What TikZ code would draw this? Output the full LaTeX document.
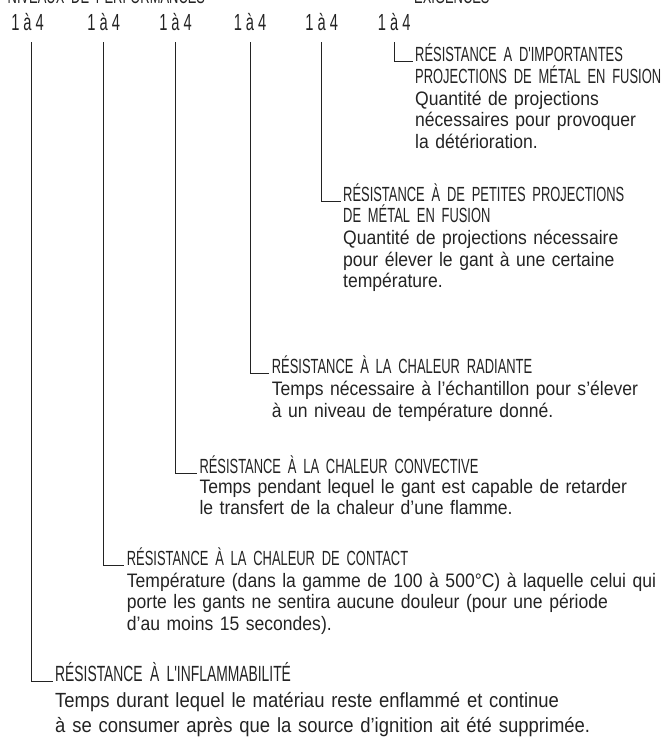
\documentclass[tikz,border=0pt]{standalone}
\usepackage{fontspec}
\setmainfont{Liberation Sans}[FakeStretch=0.90]
\newfontfamily\capsfont{Liberation Sans}[FakeStretch=0.63]
\usetikzlibrary{positioning}
\definecolor{inkgray}{RGB}{35,35,35}

\begin{document}
\begin{tikzpicture}[x=1pt, y=-1pt,
  lvl/.style={inner sep=0pt, anchor=base, text=inkgray,
              font={\capsfont\fontsize{23.3}{26}\selectfont\spaceskip=4pt\relax}},
  head/.style={inner xsep=2.5pt, inner ysep=0pt, anchor=base west, align=left,
               text width=330pt, text=inkgray,
               font={\capsfont\fontsize{20.5}{21.7}\selectfont}},
  desc/.style={inner xsep=2.5pt, inner ysep=0pt, anchor=base west, align=left,
               text width=560pt, text=inkgray, font={\fontsize{19.5}{#1}\selectfont}},
  desc/.default=21.7,
  lead/.style={draw=inkgray, line width=1pt, shorten <=11.7pt}
]
\useasboundingbox (0,0) rectangle (661,740);

% column titles, cut by the top edge
\node[head] (ttl) at (5,3.4) {NIVEAUX DE PERFORMANCES};
\node[head] (req) at (411.5,3.4) {EXIGENCES};

% levels
\node[lvl] (n1) at (27.5,30) {1 à 4};
\node[lvl] (n2) at (103.7,30) {1 à 4};
\node[lvl] (n3) at (175.5,30) {1 à 4};
\node[lvl] (n4) at (250,30) {1 à 4};
\node[lvl] (n5) at (321.7,30) {1 à 4};
\node[lvl] (n6) at (394.2,30) {1 à 4};

% tests
\node[head] (h6) at (412.5,61.5) {RÉSISTANCE A D'IMPORTANTES\\PROJECTIONS DE MÉTAL EN FUSION};
\node[desc] (d6) at ([yshift=-43.5pt]h6.base west) {Quantité de projections\\nécessaires pour provoquer\\la détérioration.};

\node[head] (h5) at (340.5,201) {RÉSISTANCE À DE PETITES PROJECTIONS\\DE MÉTAL EN FUSION};
\node[desc] (d5) at ([yshift=-43.4pt]h5.base west) {Quantité de projections nécessaire\\pour élever le gant à une certaine\\température.};

\node[head] (h4) at (269.2,373) {RÉSISTANCE À LA CHALEUR RADIANTE};
\node[desc=22] (d4) at ([yshift=-22pt]h4.base west) {Temps nécessaire à l'échantillon pour s'élever\\à un niveau de température donné.};

\node[head] (h3) at (196.8,473) {RÉSISTANCE À LA CHALEUR CONVECTIVE};
\node[desc=20.5] (d3) at ([yshift=-20.5pt]h3.base west) {Temps pendant lequel le gant est capable de retarder\\le transfert de la chaleur d'une flamme.};

\node[head] (h2) at (124.2,565) {RÉSISTANCE À LA CHALEUR DE CONTACT};
\node[desc=21.3] (d2) at ([yshift=-22.5pt]h2.base west) {Température (dans la gamme de 100 à 500°C) à laquelle celui qui\\porte les gants ne sentira aucune douleur (pour une période\\d'au moins 15 secondes).};

\node[head, font={\capsfont\fontsize{22}{24}\selectfont}] (h1) at (52.5,681) {RÉSISTANCE À L'INFLAMMABILITÉ};
\node[desc, font={\fontsize{20.5}{25}\selectfont}] (d1) at ([yshift=-26pt]h1.base west) {Temps durant lequel le matériau reste enflammé et continue\\à se consumer après que la source d'ignition ait été supprimée.};

% leader lines
\draw[lead] ([xshift=4.2pt]n1.south) |- (h1.base west);
\draw[lead] (n2.south) |- (h2.base west);
\draw[lead] (n3.south) |- (h3.base west);
\draw[lead] (n4.south) |- (h4.base west);
\draw[lead] (n5.south) |- (h5.base west);
\draw[lead] (n6.south) |- (h6.base west);
\end{tikzpicture}
\end{document}
